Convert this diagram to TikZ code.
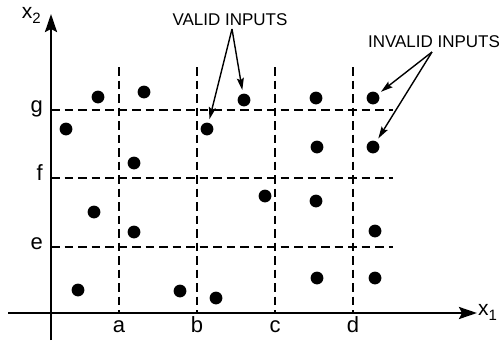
\documentclass[tikz,border=0pt]{standalone}
\usepackage{fontspec}
\setmainfont{Liberation Sans}
\usetikzlibrary{arrows.meta}

\tikzset{
  axisline/.style={line width=2.4pt, -{Stealth[length=18pt, width=12pt, inset=3pt]}},
  gridline/.style={line width=1.4pt, dash pattern=on 8.5pt off 5pt},
  sample/.style={circle, fill=black, inner sep=0pt, minimum size=12.8pt},
  pointer/.style={line width=1.4pt, -{Stealth[length=12pt, width=7pt, inset=2pt]}, shorten >=3.5pt},
  ticklabel/.style={font=\fontsize{22}{24}\selectfont, inner sep=0pt},
  callout/.style={font=\fontsize{17}{19}\selectfont, inner sep=0pt, anchor=base},
}

\begin{document}
\begin{tikzpicture}[x=1pt,y=-1pt]
  \path[use as bounding box] (0,0) rectangle (504,341);

  % grid of input classes
  \foreach \gx in {119,197,275,353}
    \draw[gridline] (\gx,67) -- (\gx,313);
  \foreach \gy in {110,178,247}
    \draw[gridline] (51,\gy) -- (393,\gy);

  % axes
  \coordinate (xstart) at (8,313);
  \coordinate (xend) at (477,313);
  \coordinate (ystart) at (51,340);
  \coordinate (yend) at (51,14);
  \draw[axisline] (xstart) -- (xend);
  \draw[axisline] (ystart) -- (yend);
  \node[anchor=mid west, inner sep=1pt, font=\fontsize{21}{23}\selectfont] (xlab) at (xend)
    {x\raisebox{-0.45ex}{\fontsize{15}{16}\selectfont 1}};
  \node[anchor=mid east, inner sep=0pt, font=\fontsize{21}{23}\selectfont] (ylab) at (41,16)
    {x\raisebox{-0.45ex}{\fontsize{15}{16}\selectfont 2}};

  % tick labels
  \node[ticklabel, anchor=base] (ta) at (119,332) {a};
  \node[ticklabel, anchor=base] (tb) at (197,332) {b};
  \node[ticklabel, anchor=base] (tc) at (275,332) {c};
  \node[ticklabel, anchor=base] (td) at (353,332) {d};
  \node[ticklabel, anchor=mid east] (tg) at (43,110) {g};
  \node[ticklabel, anchor=mid east] (tf) at (43,178) {f};
  \node[ticklabel, anchor=mid east] (te) at (43,247) {e};

  % sample points
  \foreach \n/\px/\py in {1/98/97, 2/144/92, 3/66/129, 4/134/163, 5/207/129,
                          6/244/100, 7/316/98, 8/373/98, 9/317/147, 10/373/147,
                          11/94/212, 12/134/232, 13/265/196, 14/316/201, 15/375/231,
                          16/78/290, 17/180/291, 18/216/298, 19/317/278, 20/375/278}
    \node[sample] (p\n) at (\px,\py) {};

  % callouts
  \node[callout] (valid) at (230,25) {VALID INPUTS};
  \node[callout] (invalid) at (434,47) {INVALID INPUTS};
  \coordinate (validfork) at (232,29);
  \coordinate (invalidfork) at (432,52);
  \draw[pointer] (validfork) -- (p5);
  \draw[pointer] (validfork) -- (p6);
  \draw[pointer] (invalidfork) -- (p8);
  \draw[pointer] (invalidfork) -- (p10);
\end{tikzpicture}
\end{document}
